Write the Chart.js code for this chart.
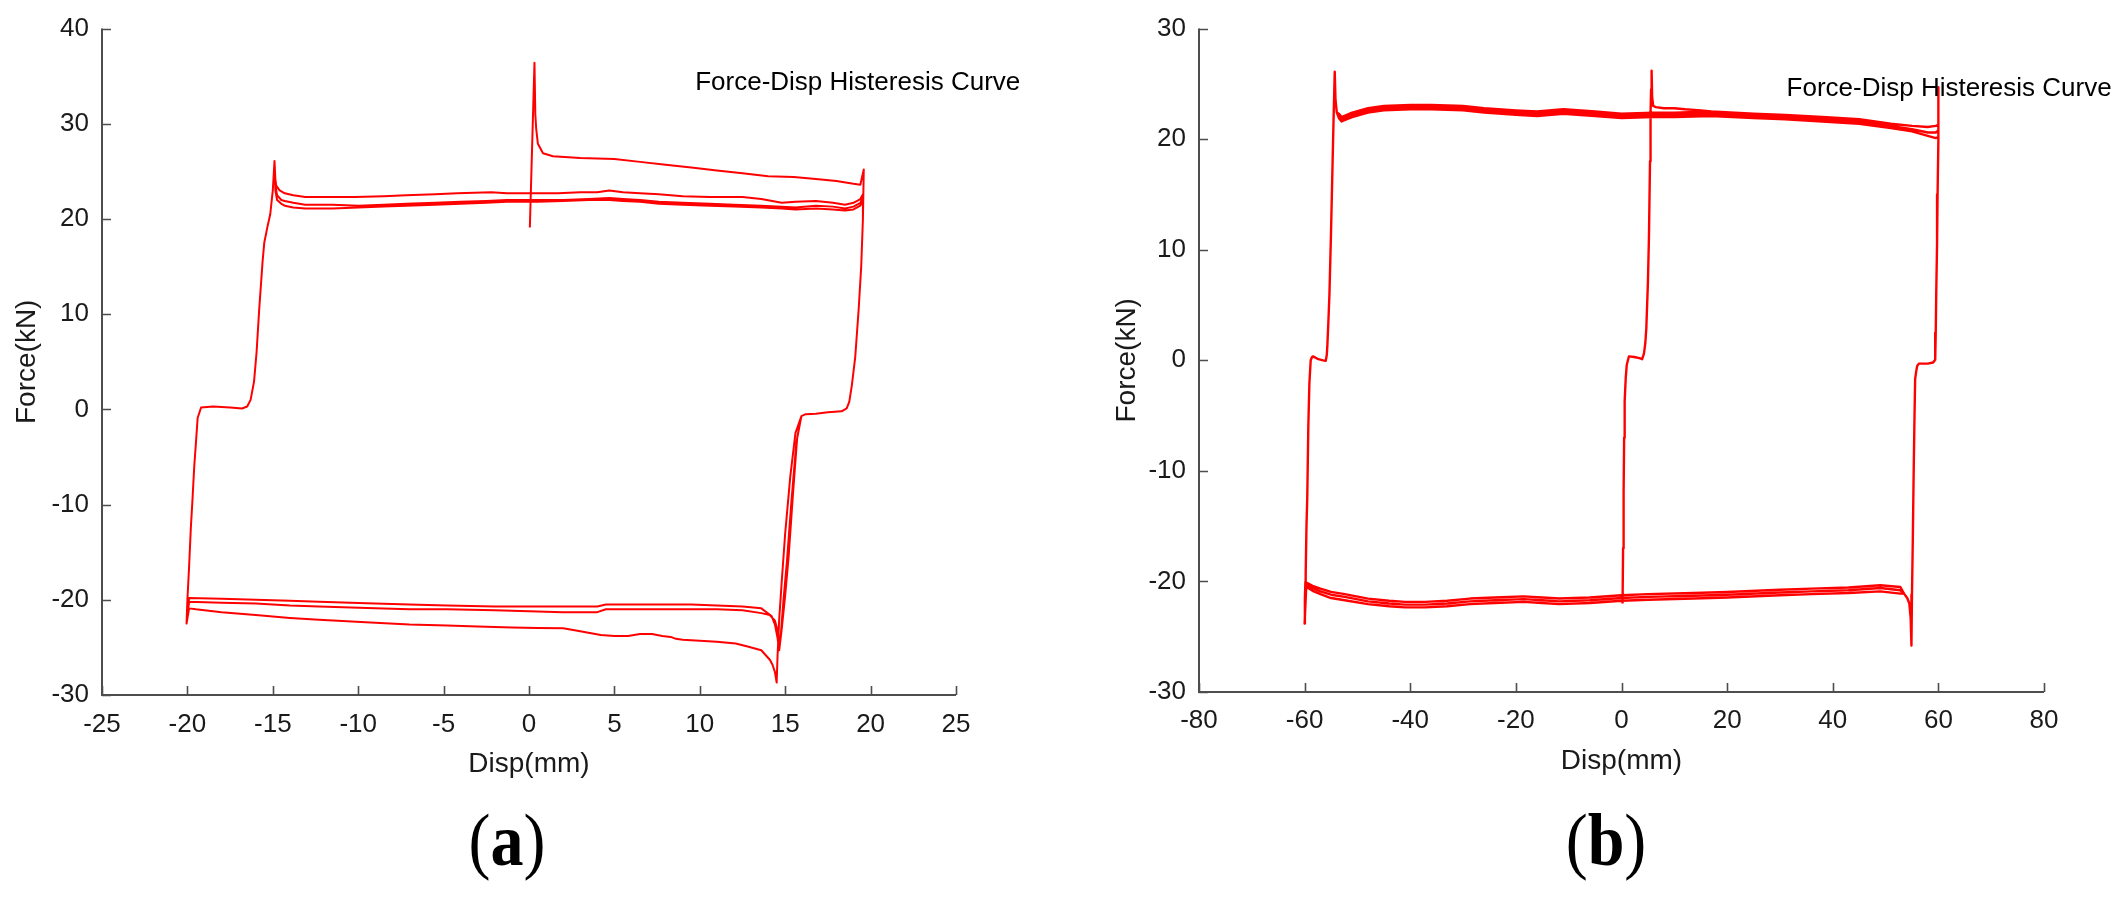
<!DOCTYPE html>
<html><head><meta charset="utf-8">
<script src="https://cdn.jsdelivr.net/npm/chart.js@4/dist/chart.umd.min.js"></script>
<style>
html,body{margin:0;padding:0;background:#fff;width:2114px;height:897px;overflow:hidden;}
#ca{position:absolute;left:0;top:0;width:1060px;height:781px;}
#cb{position:absolute;left:1100px;top:0;width:1014px;height:778px;}
.lab{position:absolute;width:200px;text-align:center;font-family:"Liberation Serif","Times New Roman",serif;font-size:66px;line-height:80px;color:#000;transform:scaleY(1.12);}
.lab b{font-weight:bold;}
</style></head><body>
<canvas id="ca" width="1060" height="781"></canvas>
<canvas id="cb" width="1014" height="778"></canvas>
<div class="lab" style="left:407px;top:800px">(<b>a</b>)</div>
<div class="lab" style="left:1506px;top:800px">(<b>b</b>)</div>
<script>
// ---------------- Panel (a) data ----------------
const A_X_TICKS = [-25, 25, 5];
const A_Y_TICKS = [-30, 40, 10];
const a_startX = [0.05, 0.32, 0.37, 0.42, 0.52, 0.82, 1.4, 3.0, 5.0, 6.5, 8.0, 9.5, 11.0, 12.5, 14.0, 15.5, 16.8, 18.0, 19.0, 19.4, 19.6];
const a_startY = [19.1, 36.4, 31.0, 29.5, 27.9, 26.9, 26.6, 26.4, 26.3, 26.0, 25.7, 25.4, 25.1, 24.8, 24.5, 24.4, 24.2, 24.0, 23.7, 23.6, 25.2];
const a_revRX = [19.55, 19.45, 19.3, 19.1, 18.9, 18.75, 18.6, 18.3, 17.5, 16.8, 16.2, 15.95];
const a_revRY = [20.0, 15.0, 10.5, 5.5, 2.5, 0.8, 0.1, -0.2, -0.3, -0.45, -0.5, -0.7];
const a_bot1X = [15.6, 15.3, 15.0, 14.8, 14.65, 14.55, 14.5, 14.4, 14.25, 14.1, 13.6, 12.8, 12.1, 11.0, 10.0, 9.0, 8.6, 8.3, 7.8, 7.2, 6.5, 5.8, 5.0, 4.2, 3.0, 2.0, 0.5, -1.0, -3.0, -4.8, -7.0, -9.0, -12.3, -14.0, -16.0, -18.0, -19.5, -19.9];
const a_bot1Y = [-2.5, -7.0, -13.0, -18.0, -22.0, -26.0, -28.7, -27.6, -26.8, -26.3, -25.3, -24.9, -24.6, -24.4, -24.3, -24.2, -24.1, -23.9, -23.8, -23.6, -23.6, -23.8, -23.8, -23.7, -23.3, -23.0, -22.95, -22.9, -22.8, -22.7, -22.6, -22.4, -22.1, -21.9, -21.6, -21.3, -21.0, -20.9];
const a_bot2X = [15.7, 15.45, 15.2, 15.0, 14.8, 14.65, 14.55, 14.4, 14.2, 13.6, 12.5, 11.0, 9.5, 8.0, 6.5, 5.0, 4.5, 4.0, 2.0, 0.0, -2.0, -4.8, -7.0, -9.0, -12.3, -14.0, -16.0, -18.0, -19.9];
const a_bot2Y = [-3.0, -9.0, -15.5, -19.5, -23.0, -25.3, -24.0, -22.6, -21.7, -20.9, -20.7, -20.6, -20.5, -20.5, -20.5, -20.5, -20.5, -20.7, -20.7, -20.7, -20.7, -20.6, -20.5, -20.4, -20.2, -20.1, -20.0, -19.9, -19.8];
const a_bot3X = [15.65, 15.35, 15.1, 14.9, 14.75, 14.65, 14.55, 14.4, 14.1, 13.6, 12.5, 11.0, 9.5, 8.0, 6.5, 5.0, 4.5, 4.0, 2.0, 0.0, -2.0, -4.8, -7.0, -9.0, -12.3, -14.0, -16.0, -18.0, -19.9];
const a_bot3Y = [-3.5, -10.0, -16.0, -20.0, -23.5, -24.8, -23.2, -22.2, -21.6, -21.4, -21.1, -21.0, -21.0, -21.0, -21.0, -21.0, -21.0, -21.3, -21.3, -21.2, -21.1, -21.0, -21.0, -20.9, -20.7, -20.6, -20.4, -20.3, -20.2];
const a_revLX = [-20.05, -20.0, -19.9, -19.8, -19.7, -19.6, -19.5, -19.4, -19.2, -18.5, -17.5, -16.8, -16.5, -16.3, -16.1, -15.95, -15.8, -15.6, -15.5, -15.3, -15.15, -15.0, -14.9];
const a_revLY = [-22.5, -20.0, -16.5, -12.5, -9.4, -6.0, -3.5, -0.9, 0.2, 0.3, 0.2, 0.1, 0.3, 1.0, 2.9, 6.0, 10.4, 15.5, 17.5, 19.3, 20.5, 23.0, 26.1];
const a_top1X = [-14.85, -14.8, -14.6, -14.3, -13.8, -13.1, -11.5, -10.2, -8.5, -7.2, -5.5, -4.2, -2.2, -1.3, 0.5, 1.7, 3.0, 4.0, 4.7, 5.5, 6.5, 7.6, 9.0, 10.6, 12.5, 13.6, 14.8, 15.6, 16.8, 17.8, 18.5, 19.0, 19.4, 19.55];
const a_top1Y = [24.2, 23.5, 23.0, 22.7, 22.5, 22.3, 22.3, 22.3, 22.4, 22.5, 22.6, 22.7, 22.8, 22.7, 22.7, 22.7, 22.8, 22.8, 23.0, 22.8, 22.7, 22.6, 22.4, 22.3, 22.3, 22.1, 21.7, 21.8, 21.9, 21.7, 21.5, 21.7, 22.1, 22.6];
const a_top2X = [-14.85, -14.75, -14.5, -14.3, -13.8, -13.1, -11.5, -10.0, -8.5, -7.2, -5.5, -4.0, -2.5, -1.3, 0.5, 2.0, 3.5, 4.7, 5.5, 6.5, 7.6, 9.0, 10.6, 12.0, 13.6, 14.8, 15.6, 16.8, 17.8, 18.5, 19.0, 19.4, 19.55];
const a_top2Y = [23.5, 22.5, 22.0, 21.9, 21.7, 21.5, 21.5, 21.4, 21.5, 21.6, 21.7, 21.8, 21.9, 22.0, 22.0, 22.0, 22.1, 22.2, 22.1, 22.0, 21.8, 21.7, 21.6, 21.5, 21.4, 21.3, 21.2, 21.4, 21.3, 21.1, 21.3, 21.7, 22.3];
const a_top3Y = [23.0, 22.0, 21.6, 21.4, 21.2, 21.1, 21.1, 21.2, 21.3, 21.4, 21.5, 21.6, 21.7, 21.8, 21.8, 21.9, 22.0, 22.0, 21.9, 21.8, 21.6, 21.5, 21.4, 21.3, 21.2, 21.1, 21.0, 21.1, 21.0, 20.9, 21.0, 21.4, 22.0];

// ---------------- Panel (b) data ----------------
const B_X_TICKS = [-80, 80, 20];
const B_Y_TICKS = [-30, 30, 10];
const b_startX = [0.2, 0.3, 0.4, 0.5, 0.6, 0.8, 1.0, 1.4, 2.4, 3.4, 3.9, 4.25, 4.5, 4.7, 5.0, 5.2, 5.4, 5.5, 5.6, 5.7, 5.8, 6.0, 6.5, 8.0, 10.0, 12.0, 15.0];
const b_startY = [-22.0, -17.0, -11.9, -7.0, -3.7, -1.6, -0.4, 0.35, 0.3, 0.2, 0.1, 0.6, 1.5, 2.9, 7.0, 11.2, 18.0, 22.4, 24.5, 26.2, 23.8, 23.0, 22.9, 22.8, 22.8, 22.7, 22.6];
const b_topX = [-53.5, -53.0, -52.0, -51.0, -48.0, -45.0, -40.0, -36.0, -30.0, -26.0, -20.0, -16.0, -11.0, -5.0, 0.0, 6.0, 10.0, 17.0, 25.0, 31.0, 38.0, 45.0, 51.0, 55.0, 58.0, 59.5, 60.0];
const b_top1Y = [22.3, 22.0, 22.2, 22.4, 22.8, 23.0, 23.1, 23.1, 23.0, 22.8, 22.6, 22.5, 22.7, 22.5, 22.3, 22.4, 22.4, 22.5, 22.3, 22.2, 22.0, 21.8, 21.4, 21.2, 21.1, 21.2, 21.3];
const b_top2Y = [22.1, 21.8, 22.0, 22.2, 22.6, 22.8, 22.9, 22.9, 22.8, 22.6, 22.4, 22.3, 22.5, 22.3, 22.1, 22.2, 22.2, 22.3, 22.1, 22.0, 21.8, 21.6, 21.2, 20.9, 20.6, 20.6, 20.8];
const b_top3Y = [21.9, 21.6, 21.8, 22.0, 22.4, 22.6, 22.7, 22.7, 22.6, 22.4, 22.2, 22.1, 22.3, 22.1, 21.9, 22.0, 22.0, 22.1, 21.9, 21.8, 21.6, 21.4, 21.0, 20.7, 20.3, 20.1, 20.2];
const b_revRX = [60.05, 59.95, 59.85, 59.75, 59.6, 59.5, 59.4, 59.0, 58.0, 57.0, 56.3, 56.0, 55.8, 55.6, 55.45, 55.3, 55.15, 55.0, 54.9, 54.75, 54.5, 54.1, 53.5];
const b_revRY = [24.7, 19.9, 15.0, 10.5, 6.2, 2.5, 0.05, -0.2, -0.3, -0.3, -0.3, -0.5, -1.0, -1.7, -6.0, -10.9, -16.5, -21.2, -25.8, -23.3, -22.0, -21.5, -21.1];
const b_botX = [52.8, 49.0, 43.0, 36.0, 30.0, 20.0, 13.7, 5.0, 0.0, -6.0, -11.8, -15.0, -18.5, -24.0, -28.7, -33.0, -37.2, -41.0, -44.0, -48.0, -52.4, -55.0, -57.0, -58.5, -59.3, -59.7];
const b_bot1Y = [-20.5, -20.35, -20.55, -20.65, -20.75, -20.95, -21.05, -21.15, -21.25, -21.45, -21.55, -21.45, -21.35, -21.45, -21.55, -21.75, -21.85, -21.85, -21.75, -21.55, -21.15, -20.95, -20.65, -20.4, -20.2, -20.1];
const b_bot2Y = [-20.8, -20.6, -20.8, -20.9, -21.0, -21.2, -21.3, -21.4, -21.5, -21.7, -21.8, -21.7, -21.6, -21.7, -21.8, -22.0, -22.1, -22.1, -22.0, -21.8, -21.4, -21.2, -20.9, -20.6, -20.4, -20.3];
const b_bot3Y = [-21.1, -20.9, -21.05, -21.15, -21.25, -21.45, -21.55, -21.65, -21.75, -21.95, -22.05, -21.95, -21.85, -21.95, -22.05, -22.25, -22.35, -22.35, -22.25, -22.05, -21.7, -21.5, -21.15, -20.85, -20.6, -20.5];
const b_revLX = [-60.0, -59.95, -59.85, -59.8, -59.65, -59.5, -59.3, -59.1, -58.85, -58.6, -58.4, -57.4, -56.5, -56.0, -55.8, -55.7, -55.5, -55.3, -55.0, -54.7, -54.5, -54.3, -54.15, -53.9];
const b_revLY = [-23.8, -21.5, -20.0, -19.3, -15.0, -12.4, -6.0, -2.1, 0.0, 0.3, 0.35, 0.1, 0.0, -0.05, 0.5, 1.3, 3.5, 6.0, 11.6, 18.0, 22.2, 26.1, 23.5, 22.4];

const TITLE_TEXT = 'Force-Disp Histeresis Curve';
const X_LABEL = 'Disp(mm)';
const Y_LABEL = 'Force(kN)';

// ---------------- helpers ----------------
function seg(xs, ys) { return xs.map((x, i) => ({x: x, y: ys[i]})); }
function path(...segs) { return [].concat(...segs); }

const pathA = path(
  seg(a_startX, a_startY), seg(a_revRX, a_revRY), seg(a_bot1X, a_bot1Y), seg(a_revLX, a_revLY),
  seg(a_top1X, a_top1Y), seg(a_revRX, a_revRY), seg(a_bot2X, a_bot2Y), seg(a_revLX, a_revLY),
  seg(a_top2X, a_top2Y), seg(a_revRX, a_revRY), seg(a_bot3X, a_bot3Y), seg(a_revLX, a_revLY),
  seg(a_top2X, a_top3Y)
);
const topFirst = seg(b_topX, b_top1Y).filter(p => p.x > 15);
const pathB = path(
  seg(b_startX, b_startY), topFirst, seg(b_revRX, b_revRY), seg(b_botX, b_bot1Y), seg(b_revLX, b_revLY),
  seg(b_topX, b_top2Y), seg(b_revRX, b_revRY), seg(b_botX, b_bot2Y), seg(b_revLX, b_revLY),
  seg(b_topX, b_top3Y), seg(b_revRX, b_revRY), seg(b_botX, b_bot3Y), seg(b_revLX, b_revLY),
  seg(b_topX, b_top1Y)
);

const FONT = '"Liberation Sans", Arial, Helvetica, sans-serif';
const AXIS_COLOR = '#4d4d4d';

const matlabAxes = {
  id: 'matlabAxes',
  afterDraw(chart, args, opts) {
    const {ctx, chartArea: a} = chart;
    const xs = chart.scales.x, ys = chart.scales.y;
    ctx.save();
    ctx.strokeStyle = AXIS_COLOR;
    ctx.lineWidth = 2;
    ctx.beginPath();
    ctx.moveTo(a.left, a.top); ctx.lineTo(a.left, a.bottom); ctx.lineTo(a.right, a.bottom);
    ctx.stroke();
    ctx.lineWidth = 1.6;
    ctx.beginPath();
    xs.ticks.forEach(t => { const p = Math.round(xs.getPixelForValue(t.value)) + 0.5; ctx.moveTo(p, a.bottom); ctx.lineTo(p, a.bottom - 9); });
    ys.ticks.forEach(t => { const p = Math.round(ys.getPixelForValue(t.value)) + 0.5; ctx.moveTo(a.left, p); ctx.lineTo(a.left + 9, p); });
    ctx.stroke();
    // annotation text
    ctx.fillStyle = '#000';
    ctx.font = '26px ' + FONT;
    ctx.textBaseline = 'alphabetic';
    ctx.textAlign = 'left';
    ctx.fillText(opts.text, xs.getPixelForValue(opts.at[0]), ys.getPixelForValue(opts.at[1]));
    ctx.restore();
  }
};

function makeChart(id, data, xt, yt, box, note) {
  return new Chart(document.getElementById(id), {
    type: 'line',
    data: { datasets: [{ data: data, borderColor: '#ff0000', borderWidth: box.lw, pointRadius: 0, tension: 0, fill: false, borderJoinStyle: 'round' }] },
    options: {
      responsive: false, animation: false, devicePixelRatio: 1, events: [],
      layout: { padding: { left: 0, top: box.top, right: box.right, bottom: 0 } },
      plugins: { legend: { display: false }, tooltip: { enabled: false }, matlabAxes: { text: TITLE_TEXT, at: note } },
      scales: {
        x: {
          type: 'linear', min: xt[0], max: xt[1],
          ticks: { stepSize: xt[2], autoSkip: false, maxRotation: 0, padding: box.xpad, color: '#1a1a1a', font: { family: FONT, size: 26 } },
          grid: { display: false, drawTicks: false }, border: { display: false },
          title: { display: true, text: X_LABEL, color: '#1a1a1a', font: { family: FONT, size: 28 }, padding: { top: 0, bottom: 0 } },
          afterFit: s => { s.height = 86; }
        },
        y: {
          type: 'linear', min: yt[0], max: yt[1],
          ticks: { stepSize: yt[2], autoSkip: false, padding: 13, color: '#1a1a1a', font: { family: FONT, size: 26 } },
          grid: { display: false, drawTicks: false }, border: { display: false },
          title: { display: true, text: Y_LABEL, color: '#1a1a1a', font: { family: FONT, size: 28 }, padding: { top: 10, bottom: 0 } },
          afterFit: s => { s.width = box.yw; }
        }
      }
    },
    plugins: [matlabAxes]
  });
}

makeChart('ca', pathA, A_X_TICKS, A_Y_TICKS, { top: 20, right: 104, yw: 102, xpad: 14, lw: 2 }, [9.73, 33.5]);
makeChart('cb', pathB, B_X_TICKS, B_Y_TICKS, { top: 24, right: 70, yw: 99, xpad: 13, lw: 2.4 }, [31.25, 23.9]);
</script>
</body></html>
